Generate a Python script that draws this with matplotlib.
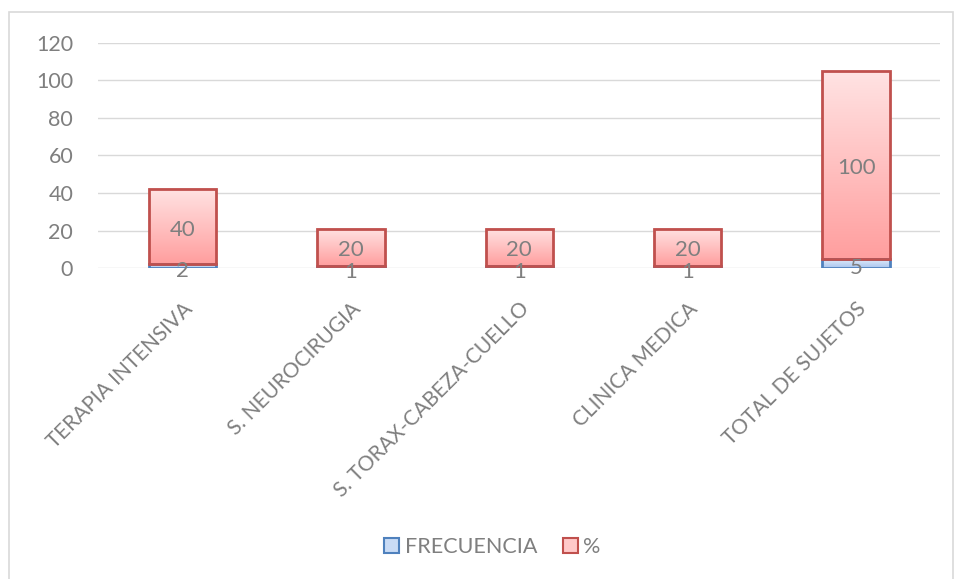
import numpy as np
import matplotlib
matplotlib.use('Agg')
import matplotlib.pyplot as plt
from matplotlib.colors import LinearSegmentedColormap
from matplotlib.patches import Rectangle, Patch

categories = ["TERAPIA INTENSIVA", "S. NEUROCIRUGIA", "S. TORAX-CABEZA-CUELLO",
              "CLINICA MEDICA", "TOTAL DE SUJETOS"]
frecuencia = [2, 1, 1, 1, 5]
porcentaje = [40, 20, 20, 20, 100]

plt.rcParams['font.family'] = ['Lato', 'DejaVu Sans']
TXT = "#7f7f7f"

fig = plt.figure(figsize=(9.58, 5.79), dpi=100)
# chart area border
fig.patches.append(Rectangle((0.0095, -0.01), 0.985, 0.99, transform=fig.transFigure,
                             fill=False, edgecolor="#d9d9d9", linewidth=1.2))
ax = fig.add_axes([0.1025, 0.537, 0.879, 0.389])

x = np.arange(len(categories))
w = 0.4
b1 = ax.bar(x, frecuencia, w, facecolor="none", edgecolor="#4f81bd", linewidth=2, zorder=3)
b2 = ax.bar(x, porcentaje, w, bottom=frecuencia, facecolor="none", edgecolor="#c0504d",
            linewidth=2, zorder=3)

blue_cm = LinearSegmentedColormap.from_list("b", ["#a9c6ee", "#e6eefb"])
red_cm = LinearSegmentedColormap.from_list("r", ["#ff9e9e", "#ffe3e3"])
grad = np.linspace(0, 1, 256).reshape(-1, 1)
for bars, cm in ((b1, blue_cm), (b2, red_cm)):
    for r in bars:
        x0, y0 = r.get_x(), r.get_y()
        ax.imshow(grad, extent=[x0, x0 + r.get_width(), y0, y0 + r.get_height()],
                  origin="lower", cmap=cm, aspect="auto", zorder=2)

for i in range(len(x)):
    ax.text(x[i], frecuencia[i] / 2 - 2.5, str(frecuencia[i]), ha="center", va="center",
            color=TXT, fontsize=16, zorder=4)
    ax.text(x[i], frecuencia[i] + porcentaje[i] / 2 - 1.5, str(porcentaje[i]), ha="center",
            va="center", color=TXT, fontsize=16, zorder=4)

ax.set_xlim(-0.5, len(x) - 0.5)
ax.set_ylim(0, 120)
ax.set_yticks(range(0, 121, 20))
ax.yaxis.grid(True, color="#d9d9d9", linewidth=1)
ax.set_axisbelow(True)
for s in ax.spines.values():
    s.set_visible(False)
ax.tick_params(axis="y", length=0, colors=TXT, labelsize=15.5, pad=18)
ax.set_xticks(x)
ax.set_xticklabels(categories, rotation=45, ha="right", rotation_mode="anchor")
ax.tick_params(axis="x", length=0, colors=TXT, labelsize=15, pad=22)

handles = [Patch(facecolor="#c9dbf5", edgecolor="#4f81bd", linewidth=1.5, label="FRECUENCIA"),
           Patch(facecolor="#ffc9c9", edgecolor="#c0504d", linewidth=1.5, label="%")]
ax.legend(handles=handles, loc="center", bbox_to_anchor=(0.514, 0.055),
          bbox_transform=fig.transFigure, ncol=2, frameon=False, fontsize=15.5,
          labelcolor=TXT, handlelength=0.7, handleheight=0.7, handletextpad=0.25,
          columnspacing=1.2)

fig.savefig("out.png", dpi=100)
